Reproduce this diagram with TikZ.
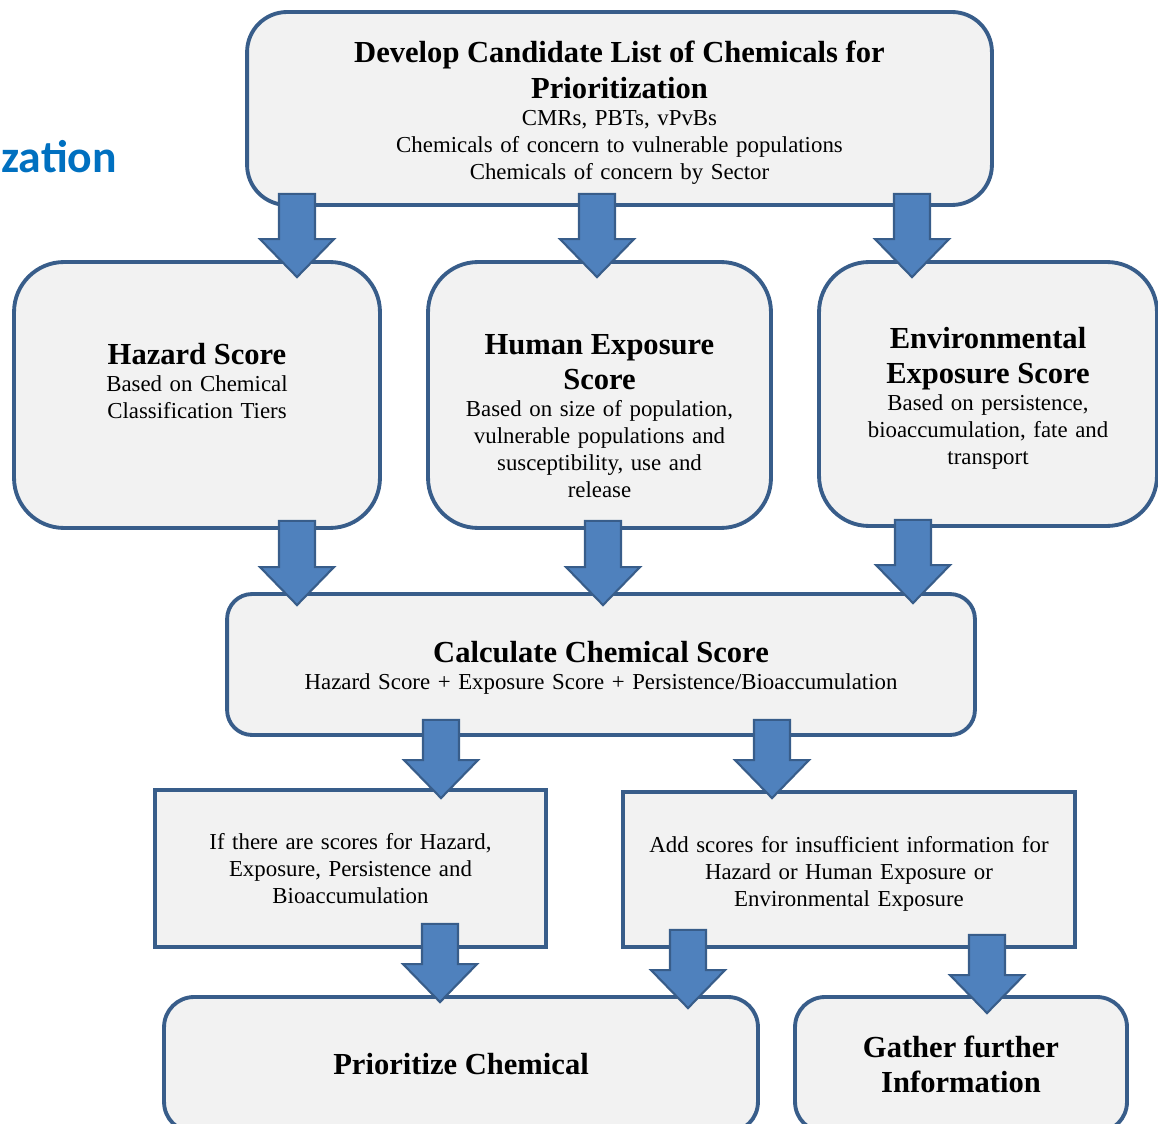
\documentclass[tikz,border=0pt]{standalone}
\usepackage{fontspec}
\setmainfont{Liberation Serif}
\newfontfamily\zsans{Carlito}
\usetikzlibrary{calc}
\definecolor{boxline}{RGB}{56,93,138}
\definecolor{boxfill}{RGB}{242,242,242}
\definecolor{arrfill}{RGB}{79,129,189}
\definecolor{titleblue}{RGB}{0,112,192}
\newcommand{\txt}{\fontsize{13}{15.4}\selectfont}
\newcommand{\hd}{\fontsize{17.4}{20}\selectfont\bfseries}
% x, from node, to node, gap above from.south, overlap below to.north
\newcommand{\blkarrow}[5]{%
  \draw[blkarr] ($(#1,0 |- #2.south)+(-18,-#4)$) -- ++(36,0) -- ($(#1,0 |- #3.north)+(18,#5-38)$) -- ++(19,0)
    -- ($(#1,0 |- #3.north)+(0,#5)$) -- ++(-37,-38) -- ++(19,0) -- cycle;}

\begin{document}
\begin{tikzpicture}[x=0.02cm,y=-0.02cm,
  rbox/.style={draw=boxline,line width=2.2pt,fill=boxfill,rounded corners=#1,align=center,font=\txt},
  sbox/.style={draw=boxline,line width=2.2pt,fill=boxfill,align=center,font=\txt},
  blkarr/.style={draw=boxline,line width=1.2pt,fill=arrfill,line join=miter}]
  \useasboundingbox (0,0) rectangle (1158,1124);
  \node[font={\fontsize{26}{30}\selectfont\zsans\bfseries},text=titleblue,anchor=base west,inner sep=0] (head) at (1,173) {zation};
  % candidate list
  \node[rbox=0.8cm,minimum width=14.9cm,minimum height=3.86cm,text width=14cm] (top) at (619.5,108.5)
    {{\hd\rule{0pt}{0.6cm}Develop Candidate List of Chemicals for\\ Prioritization\par}CMRs, PBTs, vPvBs\\ Chemicals of concern to vulnerable populations\\ Chemicals of concern by Sector};
  % scores
  \node[rbox=1cm,minimum width=7.32cm,minimum height=5.32cm,text width=6.8cm] (haz) at (197,395)
    {{\hd Hazard Score\par}Based on Chemical\\ Classification Tiers\rule[-0.55cm]{0pt}{0pt}};
  \node[rbox=1cm,minimum width=6.86cm,minimum height=5.32cm,text width=6.4cm] (hum) at (599.5,395)
    {{\hd\rule{0pt}{1.24cm}Human Exposure\\ Score\par}Based on size of population,\\ vulnerable populations and\\ susceptibility, use and\\ release};
  \node[rbox=1cm,minimum width=6.76cm,minimum height=5.28cm,text width=6.3cm] (env) at (988,394)
    {{\hd\rule{0pt}{0.6cm}Environmental\\ Exposure Score\par}Based on persistence,\\ bioaccumulation, fate and\\ transport};
  \node[rbox=0.5cm,minimum width=14.96cm,minimum height=2.82cm,text width=14cm] (calc) at (601,664.5)
    {{\hd\rule{0pt}{0.55cm}Calculate Chemical Score\par}Hazard Score + Exposure Score + Persistence/Bioaccumulation};
  % decision
  \node[sbox,minimum width=7.82cm,minimum height=3.14cm,text width=7.2cm] (ifs) at (350.5,868.5)
    {If there are scores for Hazard,\\ Exposure, Persistence and\\ Bioaccumulation};
  \node[sbox,minimum width=9.04cm,minimum height=3.1cm,text width=8.5cm] (add) at (849,869.5)
    {\rule{0pt}{0.5cm}Add scores for insufficient information for\\ Hazard or Human Exposure or\\ Environmental Exposure};
  \node[rbox=0.6cm,minimum width=11.88cm,minimum height=2.7cm,text width=11cm] (prio) at (461,1064.5)
    {{\hd Prioritize Chemical\par}};
  \node[rbox=0.6cm,minimum width=6.64cm,minimum height=2.7cm,text width=6cm] (gath) at (961,1064.5)
    {{\hd Gather further\\ Information\par}};
  % block arrows
  \blkarrow{297}{top}{haz}{13}{17}
  \blkarrow{597}{top}{hum}{13}{17}
  \blkarrow{912}{top}{env}{13}{17}
  \blkarrow{297}{haz}{calc}{9}{13}
  \blkarrow{603}{hum}{calc}{9}{13}
  \blkarrow{913}{env}{calc}{8}{11}
  \blkarrow{441}{calc}{ifs}{17}{10}
  \blkarrow{772}{calc}{add}{17}{8}
  \blkarrow{440}{ifs}{prio}{25}{7}
  \blkarrow{688}{add}{prio}{19}{13}
  \blkarrow{987}{add}{gath}{14}{18}
\end{tikzpicture}
\end{document}
